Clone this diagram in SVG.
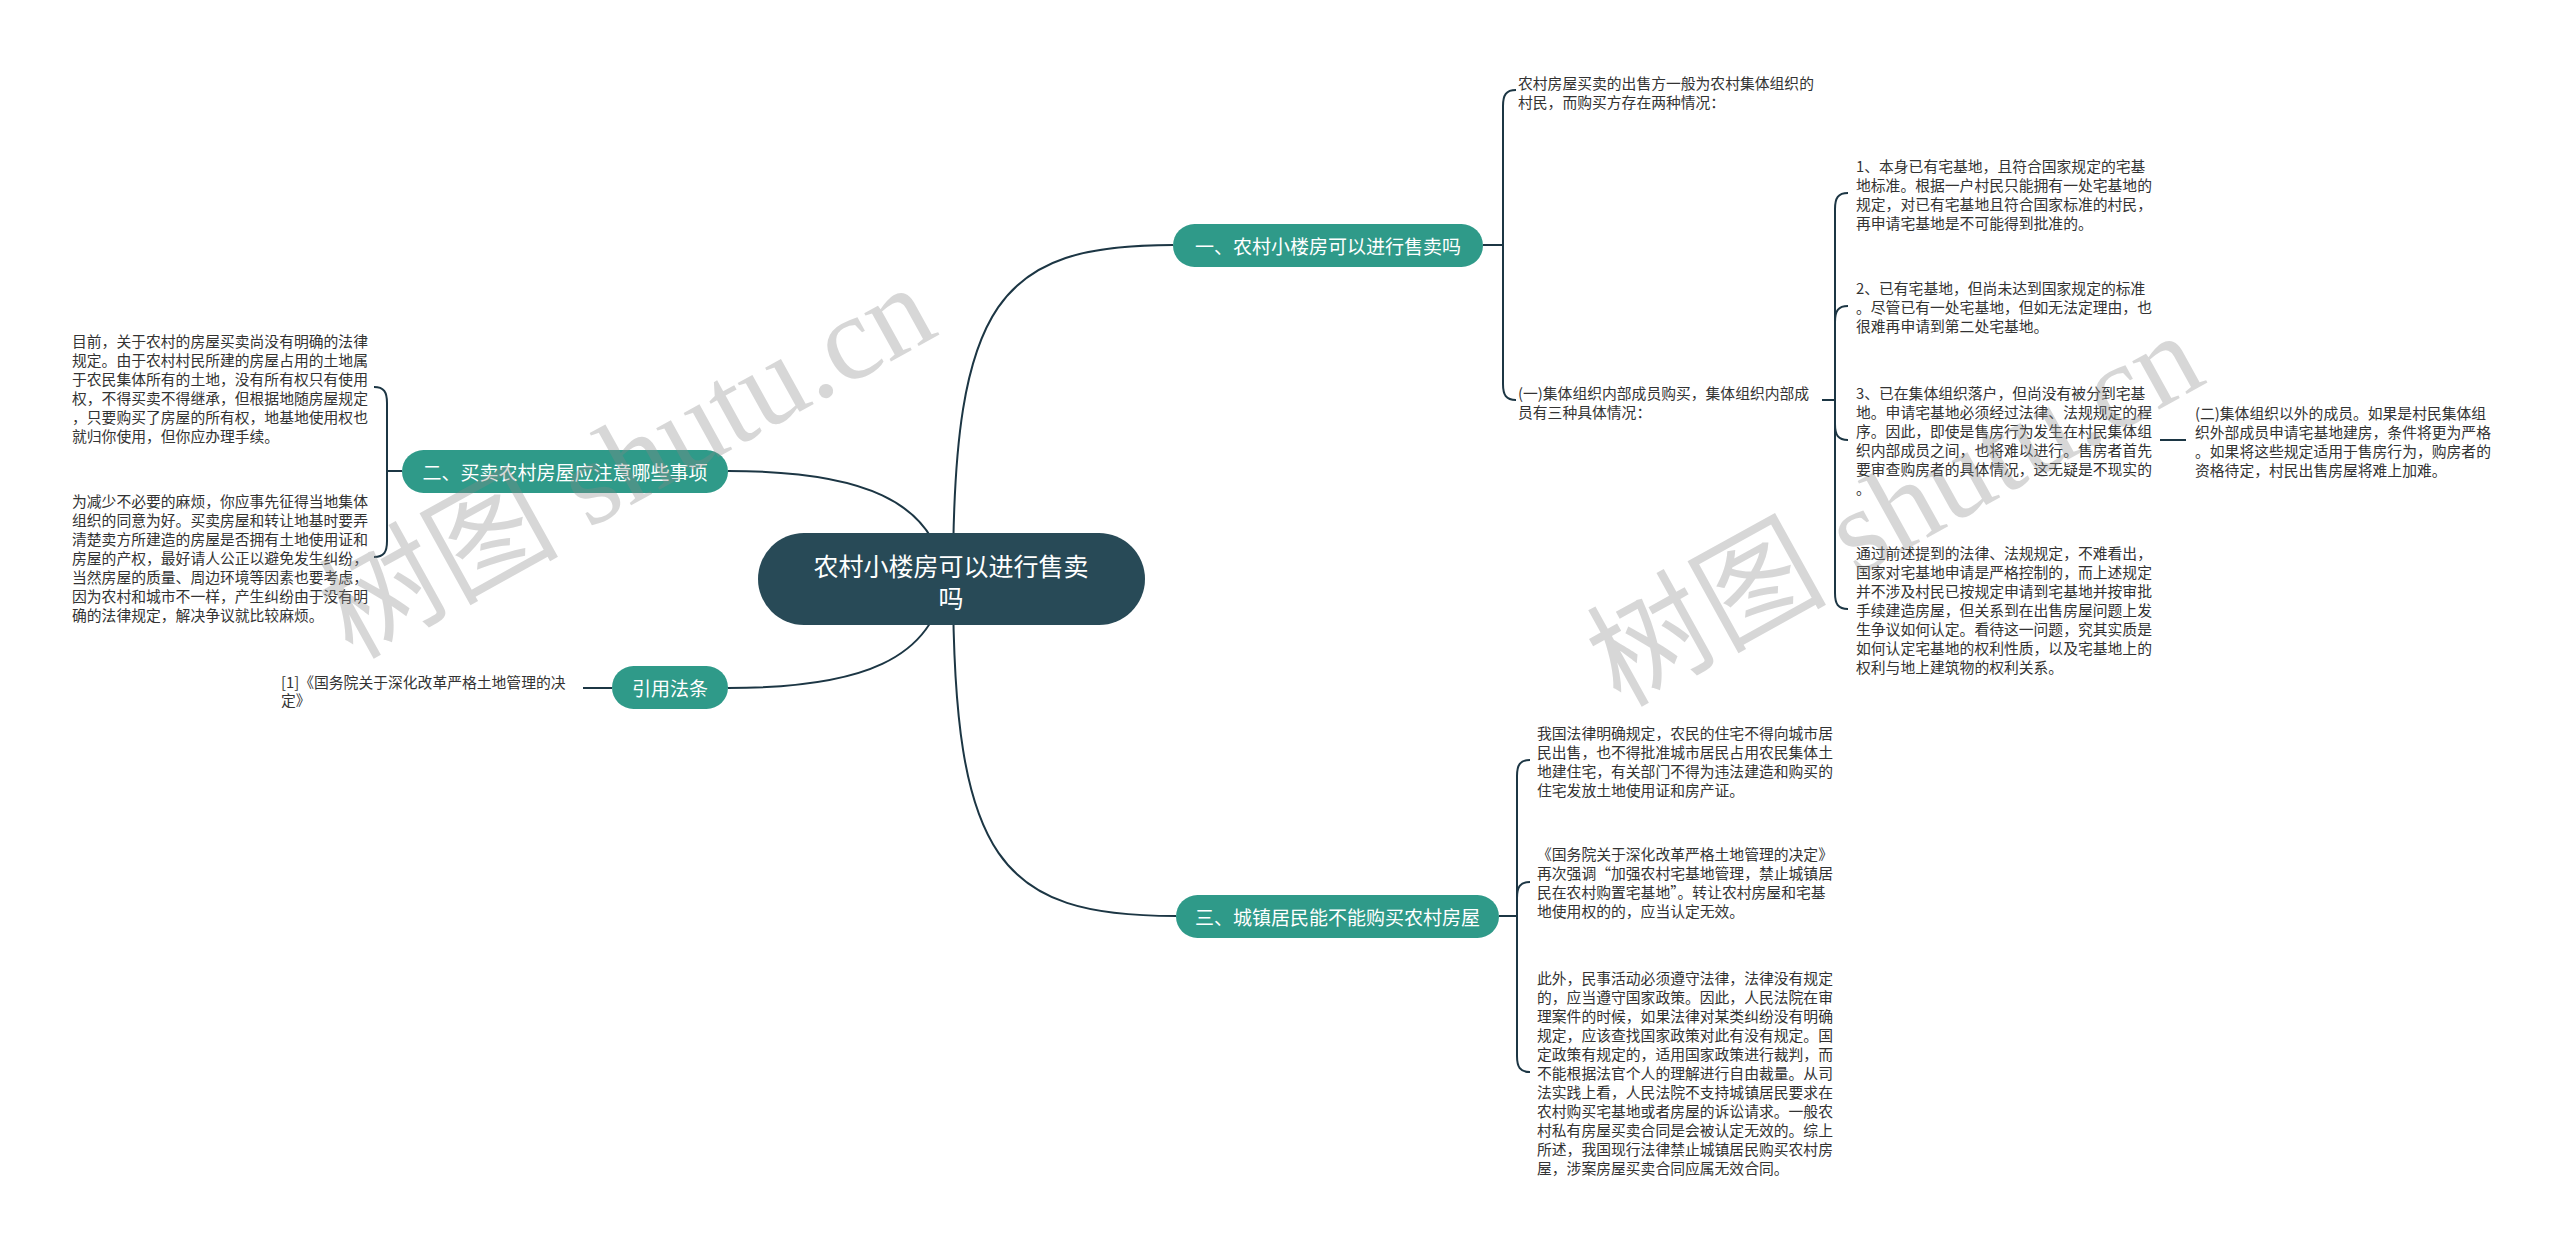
<svg xmlns="http://www.w3.org/2000/svg" width="2560" height="1245" viewBox="0 0 2560 1245">
<style>
.t{font-family:"Noto Sans CJK SC","Microsoft YaHei",sans-serif;font-size:14.8px;fill:#333;dominant-baseline:central}
.bt{font-family:"Noto Sans CJK SC","Microsoft YaHei",sans-serif;font-size:19px;fill:#fff;text-anchor:middle;dominant-baseline:central}
.rt{font-family:"Noto Sans CJK SC","Microsoft YaHei",sans-serif;font-size:25px;fill:#fff;text-anchor:middle;dominant-baseline:central}
.br{fill:#2f9a89}
.c{fill:none;stroke:#1c3644;stroke-width:2}
.wm{font-family:"Liberation Serif","Noto Sans CJK SC",serif;font-size:120px;fill:#888;opacity:0.33}
</style>
<rect width="2560" height="1245" fill="#fff"/>
<g id="connectors">
<path class="c" d="M953 579 C953 300 1000 245 1173 245"/>
<path class="c" d="M953 579 C953 860 1000 916 1176 916"/>
<path class="c" d="M945 579 C935 500 860 471 728 471"/>
<path class="c" d="M945 579 C935 660 860 688 728 688"/>
<path class="c" d="M1483 245 H1503 V106 C1503 95 1506 90 1516 90"/>
<path class="c" d="M1483 245 H1503 V384 C1503 395 1506 400 1516 400"/>
<path class="c" d="M1822 400 H1835 V209 C1835 198 1838 193 1848 193"/>
<path class="c" d="M1822 400 H1835 V322 C1835 311 1838 306 1848 306"/>
<path class="c" d="M1822 400 H1835 V424 C1835 435 1838 440 1848 440"/>
<path class="c" d="M1822 400 H1835 V593 C1835 604 1838 609 1848 609"/>
<path class="c" d="M2160 440 H2186"/>
<path class="c" d="M402 471 H387 V403 C387 392 384 387 374 387"/>
<path class="c" d="M402 471 H387 V541 C387 552 384 557 374 557"/>
<path class="c" d="M612 688 H583"/>
<path class="c" d="M1499 916 H1517 V776 C1517 765 1520 760 1530 760"/>
<path class="c" d="M1499 916 H1517 V898 C1517 887 1520 882 1530 882"/>
<path class="c" d="M1499 916 H1517 V1056 C1517 1067 1520 1072 1530 1072"/>
</g>
<g id="root">
<rect x="758" y="533" width="387" height="92" rx="46" fill="#284a57"/>
<text class="rt" x="951" y="565">农村小楼房可以进行售卖</text>
<text class="rt" x="951" y="597">吗</text>
</g>
<g id="b1">
<rect class="br" x="1173" y="224" width="310" height="43" rx="21.5"/>
<text class="bt" x="1328" y="245.5">一、农村小楼房可以进行售卖吗</text>
</g>
<g id="b2">
<rect class="br" x="402" y="450" width="326" height="43" rx="21.5"/>
<text class="bt" x="565" y="471.5">二、买卖农村房屋应注意哪些事项</text>
</g>
<g id="bref">
<rect class="br" x="612" y="666" width="116" height="43" rx="21.5"/>
<text class="bt" x="670" y="687.5">引用法条</text>
</g>
<g id="b3">
<rect class="br" x="1176" y="895" width="323" height="43" rx="21.5"/>
<text class="bt" x="1337.5" y="916.5">三、城镇居民能不能购买农村房屋</text>
</g>
<g id="n1a">
<text class="t" x="1518" y="82">农村房屋买卖的出售方一般为农村集体组织的</text>
<text class="t" x="1518" y="101">村民，而购买方存在两种情况：</text>
</g>
<g id="n1b">
<text class="t" x="1518" y="392">(一)集体组织内部成员购买，集体组织内部成</text>
<text class="t" x="1518" y="411">员有三种具体情况：</text>
</g>
<g id="nc1">
<text class="t" x="1856" y="165">1、本身已有宅基地，且符合国家规定的宅基</text>
<text class="t" x="1856" y="184">地标准。根据一户村民只能拥有一处宅基地的</text>
<text class="t" x="1856" y="203">规定，对已有宅基地且符合国家标准的村民，</text>
<text class="t" x="1856" y="222">再申请宅基地是不可能得到批准的。</text>
</g>
<g id="nc2">
<text class="t" x="1856" y="287">2、已有宅基地，但尚未达到国家规定的标准</text>
<text class="t" x="1856" y="306">。尽管已有一处宅基地，但如无法定理由，也</text>
<text class="t" x="1856" y="325">很难再申请到第二处宅基地。</text>
</g>
<g id="nc3">
<text class="t" x="1856" y="392">3、已在集体组织落户，但尚没有被分到宅基</text>
<text class="t" x="1856" y="411">地。申请宅基地必须经过法律、法规规定的程</text>
<text class="t" x="1856" y="430">序。因此，即使是售房行为发生在村民集体组</text>
<text class="t" x="1856" y="449">织内部成员之间，也将难以进行。售房者首先</text>
<text class="t" x="1856" y="468">要审查购房者的具体情况，这无疑是不现实的</text>
<text class="t" x="1856" y="487">。</text>
</g>
<g id="nc3a">
<text class="t" x="2195" y="412">(二)集体组织以外的成员。如果是村民集体组</text>
<text class="t" x="2195" y="431">织外部成员申请宅基地建房，条件将更为严格</text>
<text class="t" x="2195" y="450">。如果将这些规定适用于售房行为，购房者的</text>
<text class="t" x="2195" y="469">资格待定，村民出售房屋将难上加难。</text>
</g>
<g id="nc4">
<text class="t" x="1856" y="552">通过前述提到的法律、法规规定，不难看出，</text>
<text class="t" x="1856" y="571">国家对宅基地申请是严格控制的，而上述规定</text>
<text class="t" x="1856" y="590">并不涉及村民已按规定申请到宅基地并按审批</text>
<text class="t" x="1856" y="609">手续建造房屋，但关系到在出售房屋问题上发</text>
<text class="t" x="1856" y="628">生争议如何认定。看待这一问题，究其实质是</text>
<text class="t" x="1856" y="647">如何认定宅基地的权利性质，以及宅基地上的</text>
<text class="t" x="1856" y="666">权利与地上建筑物的权利关系。</text>
</g>
<g id="ne1">
<text class="t" x="72" y="340">目前，关于农村的房屋买卖尚没有明确的法律</text>
<text class="t" x="72" y="359">规定。由于农村村民所建的房屋占用的土地属</text>
<text class="t" x="72" y="378">于农民集体所有的土地，没有所有权只有使用</text>
<text class="t" x="72" y="397">权，不得买卖不得继承，但根据地随房屋规定</text>
<text class="t" x="72" y="416">，只要购买了房屋的所有权，地基地使用权也</text>
<text class="t" x="72" y="435">就归你使用，但你应办理手续。</text>
</g>
<g id="ne2">
<text class="t" x="72" y="500">为减少不必要的麻烦，你应事先征得当地集体</text>
<text class="t" x="72" y="519">组织的同意为好。买卖房屋和转让地基时要弄</text>
<text class="t" x="72" y="538">清楚卖方所建造的房屋是否拥有土地使用证和</text>
<text class="t" x="72" y="557">房屋的产权，最好请人公正以避免发生纠纷，</text>
<text class="t" x="72" y="576">当然房屋的质量、周边环境等因素也要考虑，</text>
<text class="t" x="72" y="595">因为农村和城市不一样，产生纠纷由于没有明</text>
<text class="t" x="72" y="614">确的法律规定，解决争议就比较麻烦。</text>
</g>
<g id="nref">
<text class="t" x="281" y="681">[1]《国务院关于深化改革严格土地管理的决</text>
<text class="t" x="281" y="699">定》</text>
</g>
<g id="nd1">
<text class="t" x="1537" y="732">我国法律明确规定，农民的住宅不得向城市居</text>
<text class="t" x="1537" y="751">民出售，也不得批准城市居民占用农民集体土</text>
<text class="t" x="1537" y="770">地建住宅，有关部门不得为违法建造和购买的</text>
<text class="t" x="1537" y="789">住宅发放土地使用证和房产证。</text>
</g>
<g id="nd2">
<text class="t" x="1537" y="853">《国务院关于深化改革严格土地管理的决定》</text>
<text class="t" x="1537" y="872">再次强调“加强农村宅基地管理，禁止城镇居</text>
<text class="t" x="1537" y="891">民在农村购置宅基地”。转让农村房屋和宅基</text>
<text class="t" x="1537" y="910">地使用权的的，应当认定无效。</text>
</g>
<g id="nd3">
<text class="t" x="1537" y="977">此外，民事活动必须遵守法律，法律没有规定</text>
<text class="t" x="1537" y="996">的，应当遵守国家政策。因此，人民法院在审</text>
<text class="t" x="1537" y="1015">理案件的时候，如果法律对某类纠纷没有明确</text>
<text class="t" x="1537" y="1034">规定，应该查找国家政策对此有没有规定。国</text>
<text class="t" x="1537" y="1053">定政策有规定的，适用国家政策进行裁判，而</text>
<text class="t" x="1537" y="1072">不能根据法官个人的理解进行自由裁量。从司</text>
<text class="t" x="1537" y="1091">法实践上看，人民法院不支持城镇居民要求在</text>
<text class="t" x="1537" y="1110">农村购买宅基地或者房屋的诉讼请求。一般农</text>
<text class="t" x="1537" y="1129">村私有房屋买卖合同是会被认定无效的。综上</text>
<text class="t" x="1537" y="1148">所述，我国现行法律禁止城镇居民购买农村房</text>
<text class="t" x="1537" y="1167">屋，涉案房屋买卖合同应属无效合同。</text>
</g>
<g id="watermarks">
<text class="wm" transform="translate(352,660) rotate(-29)">树图 shutu.cn</text>
<text class="wm" transform="translate(1620,708) rotate(-29)">树图 shutu.cn</text>
</g>
</svg>
